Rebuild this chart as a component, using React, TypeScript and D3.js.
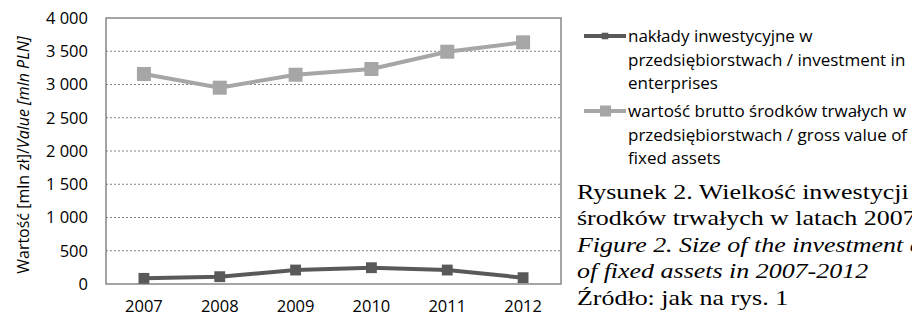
import React, { useEffect, useRef } from 'react';
import * as d3 from 'd3';

const years = ['2007', '2008', '2009', '2010', '2011', '2012'];
const investment = [85, 110, 210, 245, 210, 95];
const grossValue = [3158, 2952, 3147, 3233, 3493, 3634];
const yTicks = [0, 500, 1000, 1500, 2000, 2500, 3000, 3500, 4000];

const legendInvestment = ['nakłady inwestycyjne w', 'przedsiębiorstwach / investment in', 'enterprises'];
const legendGross = ['wartość brutto środków trwałych w', 'przedsiębiorstwach / gross value of', 'fixed assets'];
const captionLines = [
  { text: 'Rysunek 2. Wielkość inwestycji oraz wartość brutto', italic: false },
  { text: 'środków trwałych w latach 2007-2012', italic: false },
  { text: 'Figure 2. Size of the investment and gross value', italic: true },
  { text: 'of fixed assets in 2007-2012', italic: true },
  { text: 'Źródło: jak na rys. 1', italic: false },
];

const darkColor = '#595959';
const lightColor = '#a6a6a6';
const sans = '"Open Sans", sans-serif';

const App: React.FC = () => {
  const svgRef = useRef<SVGSVGElement>(null);

  useEffect(() => {
    if (!svgRef.current) return;
    const svg = d3.select(svgRef.current);
    svg.selectAll('*').remove();

    const plot = { left: 106, right: 561, top: 18, bottom: 284 };

    const x = d3.scaleBand<string>()
      .domain(years)
      .range([plot.left, plot.right]);
    const y = d3.scaleLinear()
      .domain([0, 4000])
      .range([plot.bottom, plot.top]);

    const fmt = d3.formatLocale({ decimal: ',', thousands: ' ', grouping: [3], currency: ['', ''] }).format(',');

    // gridlines
    svg.append('g')
      .selectAll('line')
      .data(yTicks.filter(t => t > 0 && t < 4000))
      .enter()
      .append('line')
      .attr('x1', plot.left)
      .attr('x2', plot.right)
      .attr('y1', d => y(d))
      .attr('y2', d => y(d))
      .attr('stroke', '#808080')
      .attr('stroke-width', 1)
      .attr('stroke-dasharray', '2,2');

    // frame
    svg.append('rect')
      .attr('x', plot.left)
      .attr('y', plot.top)
      .attr('width', plot.right - plot.left)
      .attr('height', plot.bottom - plot.top)
      .attr('fill', 'none')
      .attr('stroke', '#878787')
      .attr('stroke-width', 1.5);

    // y tick labels
    svg.append('g')
      .selectAll('text')
      .data(yTicks)
      .enter()
      .append('text')
      .attr('x', 88)
      .attr('y', d => y(d))
      .attr('dy', '0.36em')
      .attr('text-anchor', 'end')
      .style('font-family', sans)
      .style('font-size', '16.5px')
      .attr('fill', '#000')
      .text(d => fmt(d));

    // x tick labels
    svg.append('g')
      .selectAll('text')
      .data(years)
      .enter()
      .append('text')
      .attr('x', d => (x(d) as number) + x.bandwidth() / 2)
      .attr('y', 312)
      .attr('text-anchor', 'middle')
      .style('font-family', sans)
      .style('font-size', '16.5px')
      .attr('fill', '#000')
      .text(d => d);

    // y axis title
    const title = svg.append('text')
      .attr('transform', `translate(23,${(plot.top + plot.bottom) / 2 + 4}) rotate(-90)`)
      .attr('text-anchor', 'middle')
      .attr('dy', '0.35em')
      .style('font-family', sans)
      .style('font-size', '16px')
      .attr('fill', '#000');
    title.append('tspan').text('Wartość [mln zł]/');
    title.append('tspan').style('font-style', 'italic').text('Value [mln PLN]');

    const cx = (d: string) => (x(d) as number) + x.bandwidth() / 2;
    const line = d3.line<number>()
      .x((_, i) => cx(years[i]))
      .y(d => y(d));

    // gross value series
    svg.append('path')
      .datum(grossValue)
      .attr('d', line)
      .attr('fill', 'none')
      .attr('stroke', lightColor)
      .attr('stroke-width', 4);
    svg.append('g')
      .selectAll('rect')
      .data(grossValue)
      .enter()
      .append('rect')
      .attr('x', (_, i) => cx(years[i]) - 7)
      .attr('y', d => y(d) - 7)
      .attr('width', 14)
      .attr('height', 14)
      .attr('fill', lightColor);

    // investment series
    svg.append('path')
      .datum(investment)
      .attr('d', line)
      .attr('fill', 'none')
      .attr('stroke', darkColor)
      .attr('stroke-width', 4);
    const diamond = d3.symbol().type(d3.symbolDiamond2).size(150);
    svg.append('g')
      .selectAll('path')
      .data(investment)
      .enter()
      .append('path')
      .attr('d', diamond)
      .attr('transform', (d, i) => `translate(${cx(years[i])},${y(d)}) rotate(45)`)
      .attr('fill', darkColor);

    // legend
    const legend = svg.append('g');
    const legendRows = [
      { lines: legendInvestment, color: darkColor, marker: 'diamond', y0: 36 },
      { lines: legendGross, color: lightColor, marker: 'square', y0: 111 },
    ];
    legendRows.forEach(row => {
      legend.append('line')
        .attr('x1', 584).attr('x2', 626)
        .attr('y1', row.y0).attr('y2', row.y0)
        .attr('stroke', row.color)
        .attr('stroke-width', 4);
      if (row.marker === 'diamond') {
        legend.append('path')
          .attr('d', d3.symbol().type(d3.symbolDiamond2).size(55)())
          .attr('transform', `translate(605,${row.y0}) rotate(45)`)
          .attr('fill', row.color);
      } else {
        legend.append('rect')
          .attr('x', 600).attr('y', row.y0 - 5.5)
          .attr('width', 11).attr('height', 11)
          .attr('fill', row.color);
      }
      legend.append('g')
        .selectAll('text')
        .data(row.lines)
        .enter()
        .append('text')
        .attr('x', 628)
        .attr('y', (_, i) => row.y0 + i * 23.5)
        .attr('dy', '0.36em')
        .style('font-family', sans)
        .style('font-size', '17px')
        .attr('fill', '#000')
        .text(d => d);
    });

    // caption (the source figure is slightly stretched horizontally)
    svg.append('g')
      .attr('transform', 'translate(577,0) scale(1.18,1)')
      .selectAll('text')
      .data(captionLines)
      .enter()
      .append('text')
      .attr('x', 0)
      .attr('y', (_, i) => 199 + i * 26.5)
      .style('font-family', '"Liberation Serif", "Times New Roman", serif')
      .style('font-size', '22px')
      .style('font-style', d => (d.italic ? 'italic' : 'normal'))
      .attr('fill', '#000')
      .text(d => d.text);
  }, []);

  return (
    <svg
      ref={svgRef}
      width={912}
      height={317}
      viewBox="0 0 912 317"
      style={{ position: 'absolute', left: 0, top: 0, background: '#fff', display: 'block' }}
    />
  );
};

export default App;
